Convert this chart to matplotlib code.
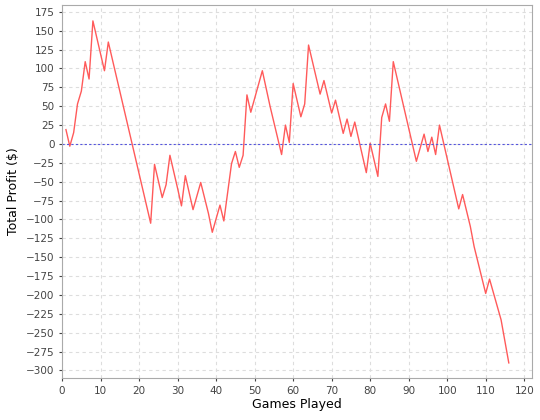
import matplotlib.pyplot as plt

# Vertices of the profit line
games = [1, 2, 3, 4, 5, 6, 7, 8, 11, 12, 23, 24, 26, 27, 28, 30, 31, 32, 34, 36,
         38, 39, 41, 42, 44, 45, 46, 47, 48, 49, 52, 54, 57, 58, 59, 60, 62, 63,
         64, 67, 68, 70, 71, 73, 74, 75, 76, 79, 80, 82, 83, 84, 85, 86, 92, 94,
         95, 96, 97, 98, 103, 104, 106, 107, 110, 111, 114, 116]
profit = [19, -3, 15, 53, 70, 109, 86, 163, 97, 135, -105, -27, -71, -54, -15, -59,
          -82, -42, -87, -51, -92, -117, -81, -102, -26, -10, -31, -15, 65, 42, 97,
          50, -14, 25, 2, 80, 36, 53, 131, 66, 84, 41, 58, 14, 33, 10, 29, -38, 1,
          -43, 35, 53, 30, 109, -23, 13, -10, 9, -14, 25, -86, -67, -109, -136,
          -198, -179, -233, -290]

fig = plt.figure(figsize=(5.4, 4.2), dpi=100)
ax = fig.add_axes([0.115, 0.1, 0.87, 0.888])

ax.plot(games, profit, color="#ff5a5a", lw=1)
ax.axhline(0, color="#5555dd", lw=0.8, ls=(0, (2, 2)))

ax.set_xlim(0, 122)
ax.set_ylim(-310, 184)
ax.set_xticks(range(0, 121, 10))
ax.set_yticks(range(-300, 176, 25))
ax.grid(True, color="#dddddd", ls=(0, (3, 3)), lw=0.8)
ax.tick_params(labelsize=7.5, colors="#444444", length=2)
for s in ax.spines.values():
    s.set_color("#aaaaaa")
ax.set_xlabel("Games Played", fontsize=9, labelpad=2)
ax.set_ylabel("Total Profit ($)", fontsize=9)

plt.savefig("out.png", dpi=100)
